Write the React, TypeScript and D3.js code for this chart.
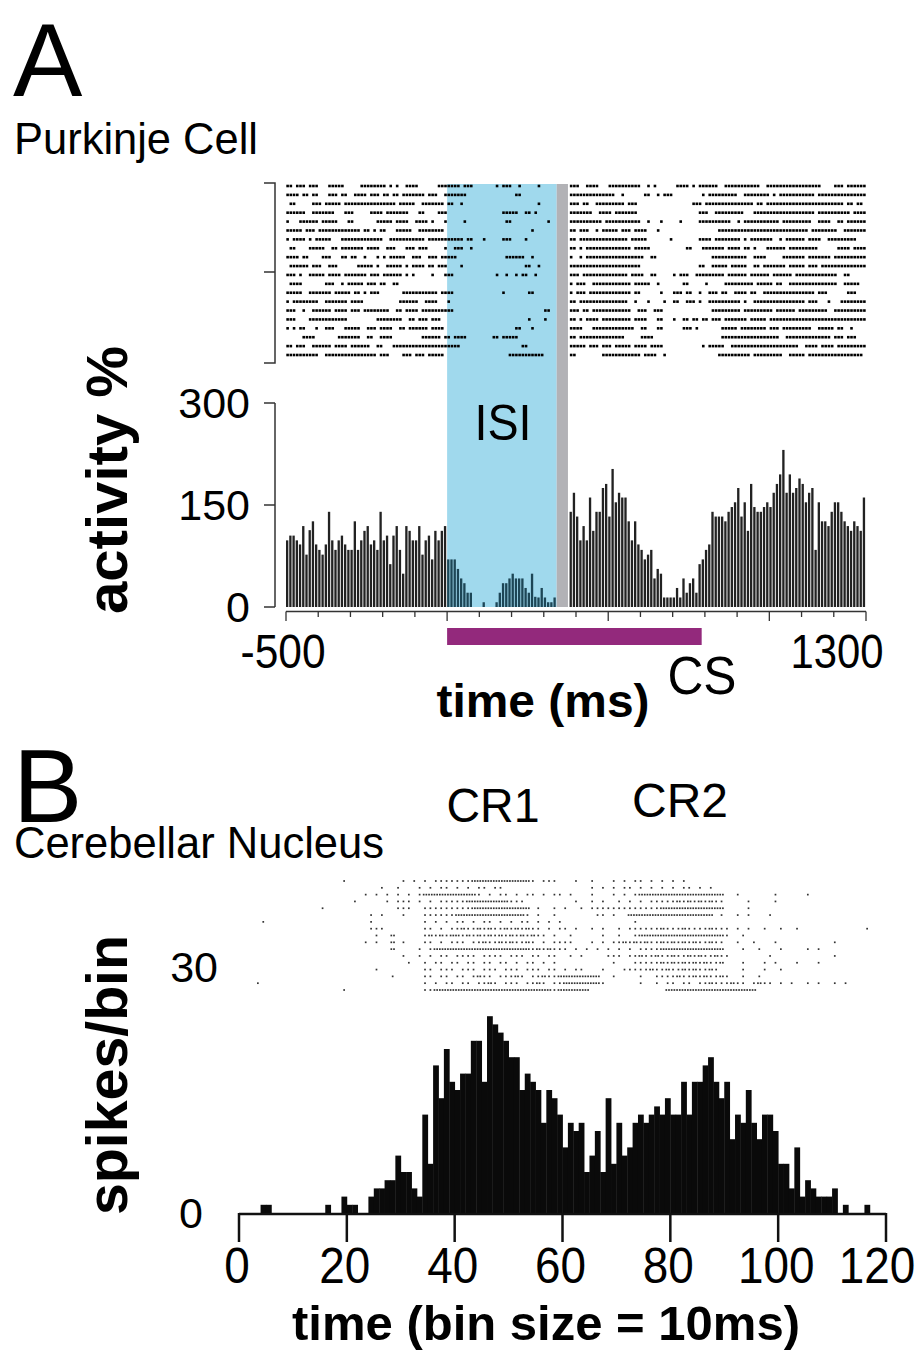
import React from 'react';
import * as d3 from 'd3';

const W = 923;
const H = 1353;
const font = "'Liberation Sans', Arial, Helvetica, sans-serif";

// ---- Panel A : Purkinje cell, 10 ms bins from -500 to 1300 ms ----
const pcBinStart = -500;
const pcBinSize = 10;
const pcActivity = [
  98, 105, 105, 98, 92, 119, 77, 113, 126, 92,
  84, 77, 92, 140, 98, 84, 98, 105, 92, 84,
  84, 126, 84, 98, 112, 119, 92, 98, 84, 140,
  98, 105, 63, 105, 119, 84, 49, 119, 112, 98,
  98, 119, 77, 98, 105, 70, 112, 98, 112, 119,
  70, 70, 70, 56, 42, 35, 21, 21, 0, 0,
  0, 7, 0, 0, 0, 7, 21, 35, 35, 42,
  49, 42, 42, 42, 28, 21, 49, 15, 14, 28,
  14, 7, 7, 14, 0, 0, 0, 0, 140, 168,
  133, 98, 119, 98, 161, 112, 140, 140, 175, 181,
  133, 203, 154, 168, 161, 161, 126, 98, 126, 92,
  84, 70, 77, 84, 42, 56, 49, 14, 14, 14,
  14, 28, 14, 42, 21, 35, 42, 21, 63, 70,
  84, 92, 140, 133, 133, 133, 126, 140, 147, 154,
  175, 133, 154, 112, 181, 147, 140, 140, 147, 154,
  147, 168, 181, 195, 231, 168, 195, 168, 175, 189,
  181, 154, 168, 175, 84, 154, 126, 126, 119, 140,
  154, 154, 140, 126, 119, 112, 126, 119, 112, 161,
];
// spike runs per trial, in 10 ms bin indices
const pcRaster = [
  "0-1 3-5 7-9 13-17 23-30 32 34 37-40 47-53 55-57 65 67-69 72 78 88-90 93-96 100-109 112 114 121-124 126 128-133 136-146 149-165 170-172 174-179",
  "0-3 5-6 8-9 13-15 17-18 21-24 26-28 30-31 33-34 36-42 44-46 49-55 71-72 88-101 104 111-112 115 117-119 129 131-139 142-149 151 153-163 165-179",
  "1-2 8-10 12-16 18-33 35-39 42-48 50-51 54 78 88-90 92-93 96-104 106-108 126-128 130-144 146-147 149-172 174-175 177-178",
  "0-5 8-14 18-20 26-29 31-37 41-42 47-49 67-71 74-75 77 88-94 97-100 102-108 128-130 133-141 145-163 165-174 176-179",
  "0 4-9 11-15 19-20 28-32 34-37 40-43 45 49 55 68-69 81 88-97 99-109 112 116 122 128-137 140 142-152 154-162 165-168 171-172 174-179",
  "0-4 6-8 10-22 24-25 27 29-30 34-38 41-48 76 88-89 91-93 96 98-102 104-106 108-111 115 134-161 163-170 173-179",
  "0 2-5 7 9-13 17-29 32-42 44-54 56-57 61 67-69 74 88-89 91-105 107-111 119 128-131 133-140 142 144-150 153 155-160 162-165 168-176",
  "1-2 7-11 14-15 17-23 25-28 31-33 37-39 41-43 49 52-54 57 88-89 91 93-106 108-112 124-125 129-135 137-140 142-143 145 149-154 156-164 171-174 176-179",
  "0-3 5-6 11-13 17-18 20-21 24 28 30 32-36 39-41 44-46 48-52 68-73 76 88 91 93-110 113-114 132-142 145-148 154-160 162-168 170-179",
  "1-6 8-10 13-15 22-26 28 31-35 37 39-42 44-45 47-49 54 74-75 78 88-109 128-129 132-136 138-142 145-146 148-154 156-160 162-164 166-179",
  "0-2 4 7-11 13-16 18-24 26-28 30-35 37 39 45 49-51 65 68 71 73-74 77 88-90 92-105 107-110 113-114 120 122-124 127-135 137-142 144-149 151-156 158-170 173-174",
  "1-4 12-14 17 19-23 25-27 29-30 33-34 88 90-92 95-106 108-112 115 123-124 130 136-144 146-150 152-153 156-170 173-177",
  "0-4 7-13 15-19 21-22 24 26-28 36-46 48-51 67 75-76 88 90-92 94-106 108-109 116 120-122 124-125 128 131-133 135-136 139-142 144-145 148-163 165-167 174-176",
  "0 2-9 12-18 20-23 35-40 43-46 50 88-89 91-105 108 112 117 120-121 124-126 128 131-140 142 145-160 162-164 168 172-179",
  "0-2 5 8-13 15-18 20-22 24-31 34-35 37-40 42-51 80-81 88-90 92-93 95-106 109-111 114-116 132-140 142-150 152-157 159-167 170-179",
  "0-2 7-18 28-35 38-39 41-43 45-47 75 80 88-89 91 93-96 98-106 108-111 115-116 120 123-124 126-127 129-130 132-134 136-142 144-148 150-179",
  "0 2 4-5 9 12-14 18-22 25-27 29-32 35-36 38-43 45-48 71-72 76 88-91 95-107 110-111 115-116 123-125 127 135-139 141-148 150-152 154-162 165-169 171-172 175",
  "5-8 16-22 25-26 29-32 42-47 49-50 52-55 64-65 67-71 88-89 91-104 110-113 135-152 155-168 170-172 174-176",
  "0-1 3-5 8-13 15-18 20-25 28-29 33-53 73-74 88-92 94-96 98-100 102-106 108-111 113-116 129 131-135 138-158 161-164 166-169 171-179",
  "0-9 12-27 29-31 36-38 40-42 44-48 69-79 88-89 98-109 111-114 117 134-143 145-153 156-160 162-178",
];
const pcYTicks = [0, 150, 300];
const pcXMinor = d3.range(-500, 1301, 100);
const pcXMajor = [-500, 0, 500, 1000, 1300];
const pcXLabels = [-500, 1300];
const isiWindow = [0, 340];
const usWindow = [340, 375];
const csWindow = [0, 790];

// ---- Panel B : cerebellar nucleus, spikes per 10 ms bin ----
const cnCounts = [
  0, 0, 0, 0, 1, 1, 0, 0, 0, 0,
  0, 0, 0, 0, 0, 0, 1, 0, 0, 2,
  1, 1, 0, 0, 2, 3, 3, 4, 4, 7,
  5, 5, 3, 2, 12, 6, 18, 14, 20, 16,
  15, 17, 17, 21, 21, 16, 24, 23, 22, 21,
  19, 19, 15, 17, 16, 15, 11, 15, 14, 12,
  8, 11, 10, 11, 5, 7, 10, 5, 14, 6,
  11, 7, 8, 11, 12, 11, 12, 13, 12, 14,
  12, 12, 16, 12, 16, 16, 18, 19, 16, 14,
  16, 9, 12, 11, 15, 11, 9, 12, 12, 10,
  6, 6, 3, 8, 2, 4, 3, 2, 2, 2,
  3, 0, 1, 0, 0, 0, 1, 0, 0, 0,
];
// '.' no spike, 'o' one spike, '8' two spikes in the bin
const cnRaster = [
  ".......... .........o .......... o.o.o.oooo ooo8888888 8888o.ooo. ..o..o...o .o.oo.o.o. o.o....... .......... .......... ..........",
  ".......... .......... ......o..o ...o.o.oo. o.o.oo.oo. .......... .....o.o.o .oo.o.o.o. o.oo.o.o.. .......... .......... ..........",
  ".......... .......... ...o.o.o.o .o.o888888 8888o.o.oo .o.oo.o.oo .o...o...o .o.o888888 8888888888 ..o......o .....o.... ..........",
  ".......... .......... .o.....o.o oo.o.o.ooo oo88888888 ooo....... ..o..o.o.. o.o.o.oooo o8o8o8o8oo ....o....o .......... ..........",
  ".......... .....o.... .........o oo..oooooo ooo8888888 8888.o..o. o..o.ooooo oooooooo88 8888888888 ....o..... .......... ..........",
  ".......... .......... ....o.o... o...oooooo 8888888888 888o.o..o. ......oo.o ..88888888 88888888.o ..o.o...o. .......... ..........",
  "....o..... .......... ....o..... ....o.o.o. oo.o.oo.o. o.oo.o.o.o .......... ...o...... .......... .......... .......... ..........",
  ".......... .......... ....ooo... ....oo.o.o o8oo8o8oo8 o8o8oo.o.o o.o..o.o.. o.oooooo8o oo8oooo8oo o.o.o..o.. o..o...... ......o...",
  ".......... .......... .....o..8. ....o8o8o8 8o8o8o8o8o 8o8o8oo.o. .o.....o.. o..o888888 8888888888 o..o...... .......... ..........",
  ".......... .......... ...o.o..8. o...oo.o.o oo.oo8oo8o 8oo8o.o.oo oo...o.o.o o8o8o8oo8o 8o8o8oo8oo ..o..o...o .......... o.........",
  ".......... .......... ........8. ...o.o8888 8888888888 8888o8o8oo o.o.o.o.o. o.o.oooo88 8888888888 ...o..o... o....o.o.. ..........",
  ".......... .......... .......... o..o.o.oo. oooo.oooo. ooo.oo.oo. .o.o....oo o.oo8oo8oo 8oo8o8oo8o o.......o. .......... o.........",
  ".......... .......... .......... .o..o.oo.o o.oo.oo.oo .o.oo.o.o. .........o ...ooooo8o 8o8o8o8oo8 ...o...o.o ...o...o.. ..........",
  ".......... .......... .....o.... ....oo.ooo .ooo.ooo.o oo.ooo.oo. o.oo...o.. .ooooo8oo8 oo8o8oo8o. ...o...o.. o......... ..........",
  ".......... .......... ........o. ....oo.oo. oo.o8oo.oo o8o.oo8oo8 8888888..o ....o..ooo o8oo8o8oo8 o..o..o... .......... ..........",
  "...o...... .......... .......... ....o.o.oo .oo.oo8o.o oo.oo8o.oo 8888888o.. ....o..o.o o.oo.oo8oo o8oo.o8oo. o.o..o.o.. o.o.......",
  ".......... .........o .......... ....oo8888 8888888888 88888888o8 88888..... .........8 8888888888 888888.... .......... ..........",
];
const cnXTicks = [0, 20, 40, 60, 80, 100, 120];
const cnYLabels = [0, 30];

function parseRuns(s: string): number[] {
  const out: number[] = [];
  s.split(' ').forEach((tok) => {
    const [a, b] = tok.split('-').map(Number);
    const end = b === undefined ? a : b;
    for (let i = a; i <= end; i++) out.push(i);
  });
  return out;
}

export default function App() {
  // scales
  const xA = d3.scaleLinear().domain([-500, 1300]).range([286, 866]);
  const yA = d3.scaleLinear().domain([0, 300]).range([607, 403]);
  const rowA = d3.scaleLinear().domain([0, pcRaster.length - 1]).range([186, 355]);
  const xB = d3.scaleLinear().domain([0, 120]).range([239, 886]);
  const yB = d3.scaleLinear().domain([0, 30]).range([1213, 967]);
  const rowB = d3.scaleLinear().domain([0, cnRaster.length - 1]).range([881, 990]);

  const bwA = xA(pcBinSize) - xA(0);
  const inIsi = (t: number) => t >= isiWindow[0] && t < isiWindow[1];

  const pcDots: { x: number; y: number }[] = [];
  pcRaster.forEach((r, i) => {
    parseRuns(r).forEach((b) => {
      pcDots.push({ x: xA(pcBinStart + b * pcBinSize) + bwA / 2, y: rowA(i) });
    });
  });

  const cnDots: { x: number; y: number }[] = [];
  cnRaster.forEach((r, i) => {
    r.replace(/ /g, '').split('').forEach((c, b) => {
      if (c === 'o') cnDots.push({ x: xB(b + 0.5), y: rowB(i) });
      if (c === '8') {
        cnDots.push({ x: xB(b + 0.25), y: rowB(i) });
        cnDots.push({ x: xB(b + 0.75), y: rowB(i) });
      }
    });
  });

  const axisCol = '#333';
  const cnLabelX = (t: number) => (t === 120 ? 877 : xB(t) - 2);

  return (
    <svg width={W} height={H} style={{ position: 'absolute', left: 0, top: 0, background: '#fff' }} fontFamily={font}>
      {/* ---------- Panel A ---------- */}
      <text x={13} y={96} fontSize={104}>A</text>
      <text x={14} y={154} fontSize={44} textLength={244} lengthAdjust="spacingAndGlyphs">Purkinje Cell</text>

      {/* ISI and US windows */}
      <rect x={xA(isiWindow[0])} y={184} width={xA(isiWindow[1]) - xA(isiWindow[0])} height={607 - 184} fill="#a0d9ed" />
      <rect x={xA(usWindow[0])} y={184} width={xA(usWindow[1]) - xA(usWindow[0])} height={607 - 184} fill="#b2b2b6" />

      {/* raster */}
      {pcDots.map((d, i) => (
        <rect key={'pd' + i} x={d.x - 1.3} y={d.y - 1.3} width={2.6} height={2.6} fill="#000" />
      ))}
      <path d={`M264,183 H275 V363 H264 M264,272 H275`} fill="none" stroke={axisCol} strokeWidth={1.5} />

      {/* PSTH */}
      {pcActivity.map((v, i) => {
        const t = pcBinStart + i * pcBinSize;
        return (
          <rect key={'pb' + i} x={xA(t)} y={yA(v)} width={bwA - 0.9} height={yA(0) - yA(v)}
            fill={inIsi(t) ? '#1d4656' : '#222'} />
        );
      })}
      <text x={503} y={440} fontSize={50} textAnchor="middle" textLength={57} lengthAdjust="spacingAndGlyphs">ISI</text>

      {/* y axis */}
      <line x1={275} x2={275} y1={yA(300)} y2={yA(0)} stroke={axisCol} strokeWidth={1.5} />
      {pcYTicks.map((v) => (
        <g key={'py' + v}>
          <line x1={264} x2={275} y1={yA(v)} y2={yA(v)} stroke={axisCol} strokeWidth={1.5} />
          <text x={250} y={yA(v) + 15} fontSize={43} textAnchor="end">{v}</text>
        </g>
      ))}
      <text transform="translate(127,480) rotate(-90)" fontSize={58} fontWeight="bold" textAnchor="middle"
        textLength={268} lengthAdjust="spacingAndGlyphs">activity %</text>

      {/* x axis */}
      <line x1={xA(-500)} x2={xA(1300)} y1={611.5} y2={611.5} stroke={axisCol} strokeWidth={1.5} />
      {pcXMinor.map((t) => (
        <line key={'pt' + t} x1={xA(t)} x2={xA(t)} y1={611.5} y2={pcXMajor.includes(t) ? 621 : 617}
          stroke={axisCol} strokeWidth={1.3} />
      ))}
      {pcXLabels.map((t) => (
        <text key={'pl' + t} x={t < 0 ? xA(t) - 3 : xA(t) - 29} y={668} fontSize={48} textAnchor="middle"
          textLength={t < 0 ? 85 : 93} lengthAdjust="spacingAndGlyphs">{t}</text>
      ))}
      <rect x={xA(csWindow[0])} y={628} width={xA(csWindow[1]) - xA(csWindow[0])} height={17} fill="#93297c" />
      <text x={702} y={694} fontSize={54} textAnchor="middle" textLength={69} lengthAdjust="spacingAndGlyphs">CS</text>
      <text x={543} y={717} fontSize={47} fontWeight="bold" textAnchor="middle" textLength={213}
        lengthAdjust="spacingAndGlyphs">time (ms)</text>

      {/* ---------- Panel B ---------- */}
      <text x={13} y={822} fontSize={104}>B</text>
      <text x={493} y={822} fontSize={48} textAnchor="middle" textLength={93} lengthAdjust="spacingAndGlyphs">CR1</text>
      <text x={680} y={817} fontSize={48} textAnchor="middle" textLength={96} lengthAdjust="spacingAndGlyphs">CR2</text>
      <text x={14} y={858} fontSize={44} textLength={370} lengthAdjust="spacingAndGlyphs">Cerebellar Nucleus</text>

      {/* raster */}
      {cnDots.map((d, i) => (
        <rect key={'cd' + i} x={d.x - 0.85} y={d.y - 0.85} width={1.7} height={1.7} fill="#333" />
      ))}

      {/* histogram */}
      {cnCounts.map((v, i) =>
        v > 0 ? (
          <rect key={'cb' + i} x={xB(i)} y={yB(v)} width={xB(i + 1) - xB(i) + 0.4} height={yB(0) - yB(v)} fill="#0a0a0a" />
        ) : null
      )}
      <line x1={xB(0)} x2={xB(120)} y1={1214} y2={1214} stroke="#111" strokeWidth={2.5} />
      {cnXTicks.map((t) => (
        <g key={'ct' + t}>
          <line x1={xB(t)} x2={xB(t)} y1={1213} y2={1242} stroke="#111" strokeWidth={2.5} />
          <text x={cnLabelX(t)} y={1283} fontSize={50} textAnchor="middle" textLength={25.5 * String(t).length}
            lengthAdjust="spacingAndGlyphs">{t}</text>
        </g>
      ))}
      {cnYLabels.map((v) => (
        <text key={'cy' + v} x={v === 0 ? 203 : 218} y={yB(v) + 15} fontSize={43} textAnchor="end">{v}</text>
      ))}
      <text transform="translate(127,1075) rotate(-90)" fontSize={58} fontWeight="bold" textAnchor="middle"
        textLength={280} lengthAdjust="spacingAndGlyphs">spikes/bin</text>
      <text x={546} y={1340} fontSize={49} fontWeight="bold" textAnchor="middle" textLength={508}
        lengthAdjust="spacingAndGlyphs">time (bin size = 10ms)</text>
    </svg>
  );
}
